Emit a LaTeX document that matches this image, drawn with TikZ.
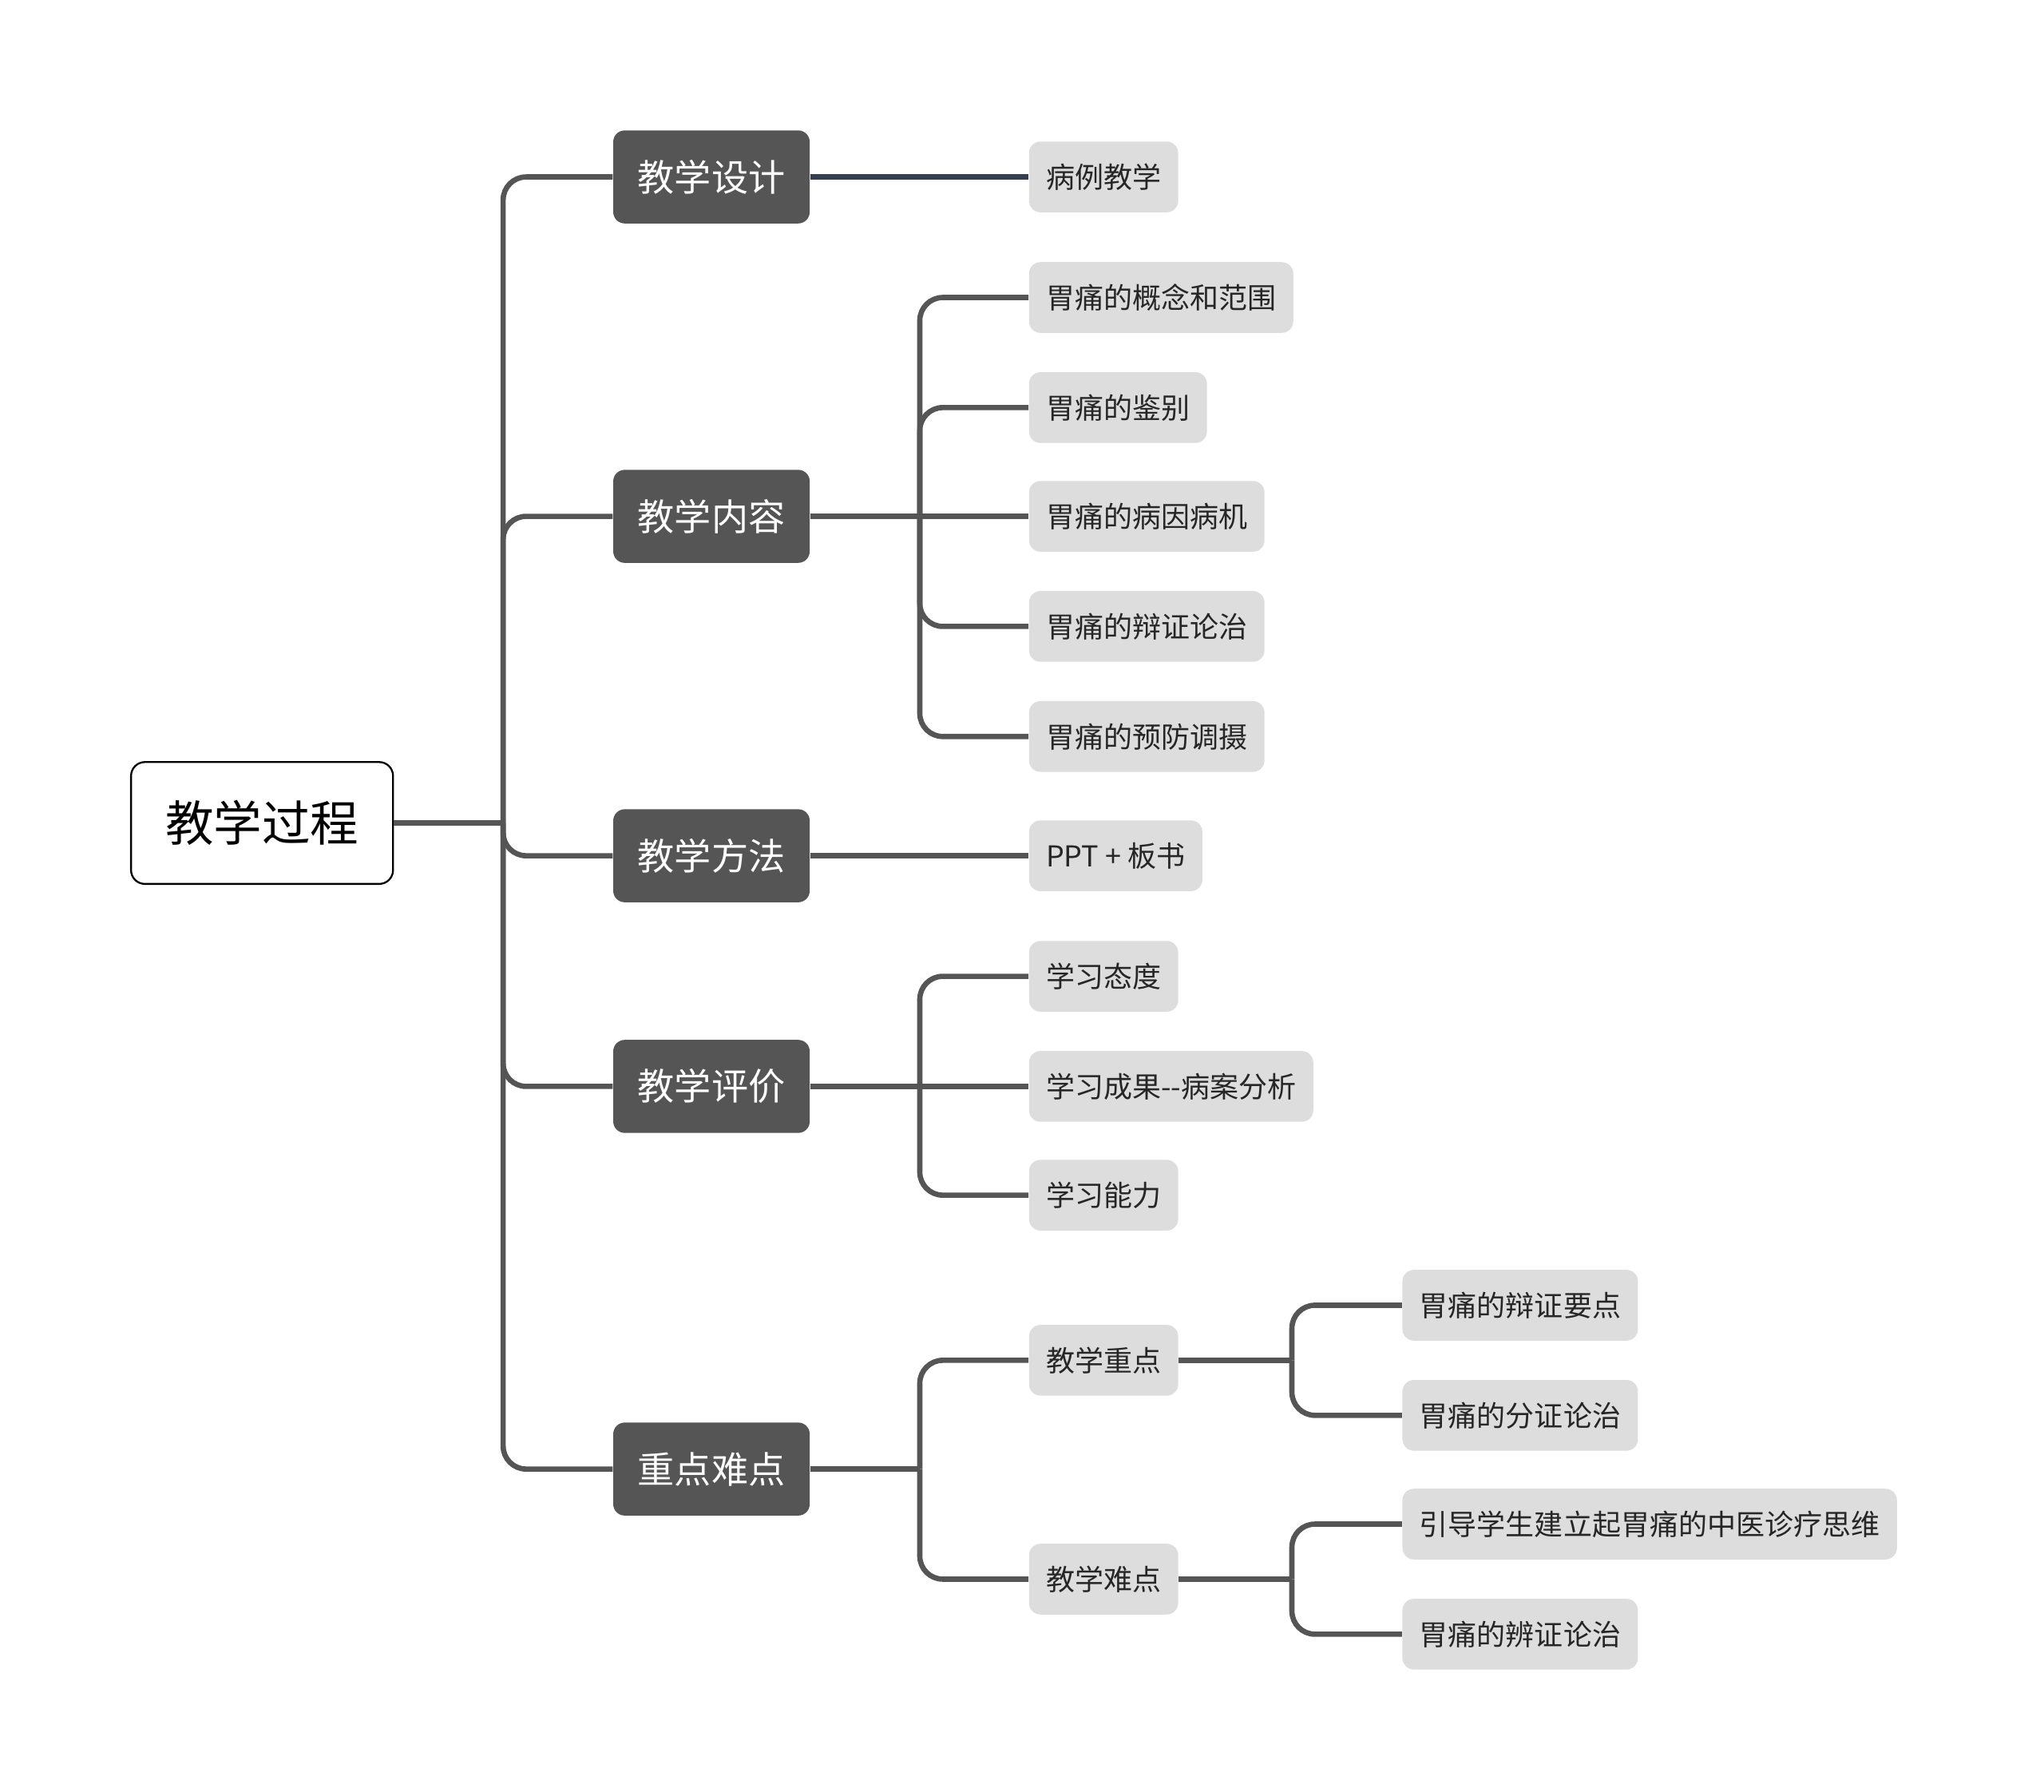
\documentclass[tikz,border=0pt]{standalone}
\usepackage{fontspec}
\setmainfont{Noto Sans CJK SC}
\usetikzlibrary{positioning}
\definecolor{darkbox}{HTML}{555555}
\definecolor{lightbox}{HTML}{DDDDDD}
\definecolor{slateline}{HTML}{34404F}
\tikzset{
  rootbox/.style={draw=black, line width=0.8pt, fill=white, rounded corners=6pt, minimum width=4cm, minimum height=1.86cm, font=\fontsize{21}{25}\selectfont},
  mainbox/.style={fill=darkbox, text=white, rounded corners=5pt, minimum width=3cm, minimum height=1.42cm, font=\fontsize{16}{19}\selectfont},
  leafbox/.style={fill=lightbox, text=black!85, rounded corners=5pt, minimum height=1.08cm, inner xsep=0.26cm, anchor=west, font=\fontsize{12.5}{15}\selectfont},
  conn/.style={draw=darkbox, line width=2.3pt, rounded corners=10pt}
}
\begin{document}
\begin{tikzpicture}[x=0.02cm, y=-0.02cm]
\useasboundingbox (0,0) rectangle (1560,1367);
% root and main topics
\node (root) [rootbox] at (200,628) {教学过程};
\node (design) [mainbox] at (543,135) {教学设计};
\node (content) [mainbox] at (543,394) {教学内容};
\node (method) [mainbox] at (543,653) {教学方法};
\node (eval) [mainbox] at (543,829) {教学评价};
\node (key) [mainbox] at (543,1121) {重点难点};
% second level
\node (case) [leafbox] at (785,135) {病例教学};
\node (c1) [leafbox] at (785,227) {胃痛的概念和范围};
\node (c2) [leafbox] at (785,311) {胃痛的鉴别};
\node (c3) [leafbox] at (785,394) {胃痛的病因病机};
\node (c4) [leafbox] at (785,478) {胃痛的辩证论治};
\node (c5) [leafbox] at (785,562) {胃痛的预防调摄};
\node (ppt) [leafbox] at (785,653) {PPT + 板书};
\node (e1) [leafbox] at (785,745) {学习态度};
\node (e2) [leafbox] at (785,829) {学习成果{-}{-}病案分析};
\node (e3) [leafbox] at (785,912) {学习能力};
\node (zd) [leafbox] at (785,1038) {教学重点};
\node (nd) [leafbox] at (785,1205) {教学难点};
% third level
\node (z1) [leafbox] at (1070,996) {胃痛的辩证要点};
\node (z2) [leafbox] at (1070,1080) {胃痛的分证论治};
\node (n1) [leafbox] at (1070,1163) {引导学生建立起胃痛的中医诊疗思维};
\node (n2) [leafbox] at (1070,1247) {胃痛的辨证论治};
% junctions
\coordinate (jroot) at (384,628);
\coordinate (jcont) at (702,394);
\coordinate (jeval) at (702,829);
\coordinate (jkey) at (702,1121);
\coordinate (jzd) at (986,1038);
\coordinate (jnd) at (986,1205);
% connectors
\draw[conn] (root.east) -- (jroot);
\foreach \t in {design,content,method,eval,key}
  \draw[conn] (jroot) |- (\t.west);
\draw[conn, draw=slateline] (design.east) -- (case.west);
\draw[conn] (content.east) -- (c3.west);
\foreach \t in {c1,c2,c4,c5}
  \draw[conn] (jcont) |- (\t.west);
\draw[conn] (method.east) -- (ppt.west);
\draw[conn] (eval.east) -- (e2.west);
\foreach \t in {e1,e3}
  \draw[conn] (jeval) |- (\t.west);
\draw[conn] (key.east) -- (jkey);
\foreach \t in {zd,nd}
  \draw[conn] (jkey) |- (\t.west);
\draw[conn] (zd.east) -- (jzd);
\foreach \t in {z1,z2}
  \draw[conn] (jzd) |- (\t.west);
\draw[conn] (nd.east) -- (jnd);
\foreach \t in {n1,n2}
  \draw[conn] (jnd) |- (\t.west);
\end{tikzpicture}
\end{document}
